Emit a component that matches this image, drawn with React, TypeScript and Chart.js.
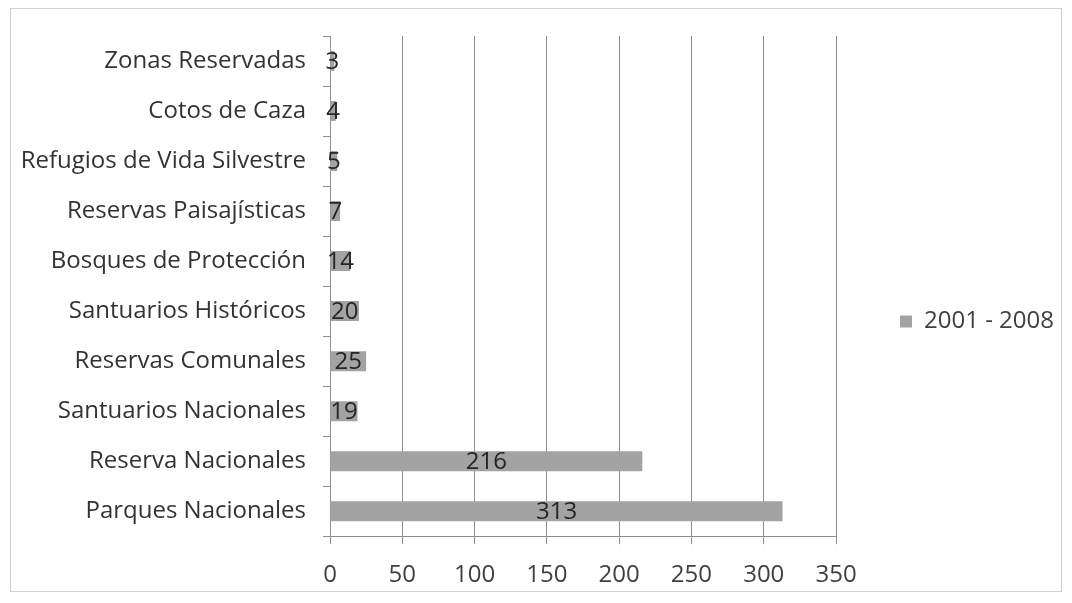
import React, { useEffect, useRef } from "react";
import { Chart, registerables } from "chart.js";

Chart.register(...registerables);

const categories: string[] = [
  "Zonas Reservadas",
  "Cotos de Caza",
  "Refugios de Vida Silvestre",
  "Reservas Paisajísticas",
  "Bosques de Protección",
  "Santuarios Históricos",
  "Reservas Comunales",
  "Santuarios Nacionales",
  "Reserva Nacionales",
  "Parques Nacionales",
];
const seriesLabel = "2001 - 2008";
const seriesValues: number[] = [3, 4, 5, 7, 14, 20, 25, 19, 216, 313];
const xTicks: number[] = [0, 50, 100, 150, 200, 250, 300, 350];

const FONT = "'Open Sans', sans-serif";
const FS = 24;

const valueLabels = {
  id: "valueLabels",
  afterDatasetsDraw(chart: any) {
    const ctx = chart.ctx;
    const meta = chart.getDatasetMeta(0);
    const data = chart.data.datasets[0].data as number[];
    ctx.save();
    ctx.font = `${FS}px ${FONT}`;
    ctx.fillStyle = "#262626";
    ctx.textAlign = "center";
    ctx.textBaseline = "middle";
    meta.data.forEach((bar: any, i: number) => {
      const cx = (bar.x + bar.base) / 2;
      ctx.fillText(String(data[i]), cx, bar.y + 1);
    });
    ctx.restore();
  },
};

export default function App() {
  const ref = useRef<HTMLCanvasElement | null>(null);
  useEffect(() => {
    if (!ref.current) return;
    const chart = new Chart(ref.current, {
      type: "bar",
      data: {
        labels: categories,
        datasets: [
          {
            label: seriesLabel,
            data: seriesValues,
            backgroundColor: "#a3a3a3",
            borderWidth: 0,
            barPercentage: 0.4,
            categoryPercentage: 1,
          },
        ],
      },
      options: {
        indexAxis: "y",
        animation: false,
        responsive: true,
        maintainAspectRatio: false,
        layout: { padding: { top: 27, bottom: -16, left: 0, right: -3 } },
        plugins: {
          legend: {
            display: true,
            position: "right",
            labels: {
              boxWidth: 12,
              boxHeight: 12,
              padding: 64,
              color: "#404040",
              font: { family: FONT, size: FS },
            },
          },
          tooltip: { enabled: false },
        },
        scales: {
          x: {
            min: 0,
            max: 350,
            afterBuildTicks: (scale: any) => {
              scale.ticks = xTicks.map((v) => ({ value: v }));
            },
            grid: {
              color: "#8e8e8e",
              lineWidth: 1,
              tickLength: 8,
              drawTicks: true,
            },
            border: { display: true, color: "#8e8e8e" },
            ticks: {
              color: "#404040",
              padding: 17,
              font: { family: FONT, size: FS },
              maxRotation: 0,
            },
          },
          y: {
            afterFit: (scale: any) => {
              scale.width = 319;
              scale.paddingTop = 0;
              scale.paddingBottom = 0;
            },
            grid: {
              offset: true,
              drawOnChartArea: false,
              drawTicks: true,
              tickLength: 7,
              color: "#8e8e8e",
            },
            border: { display: true, color: "#8e8e8e" },
            ticks: {
              color: "#333333",
              padding: 17,
              font: { family: FONT, size: FS },
            },
          },
        },
      },
      plugins: [valueLabels],
    });
    return () => chart.destroy();
  }, []);

  return (
    <div
      style={{
        width: 1050,
        height: 582,
        marginLeft: 2,
        border: "1px solid #cfcfcf",
        position: "relative",
        background: "#ffffff",
      }}
    >
      <canvas ref={ref} />
    </div>
  );
}
